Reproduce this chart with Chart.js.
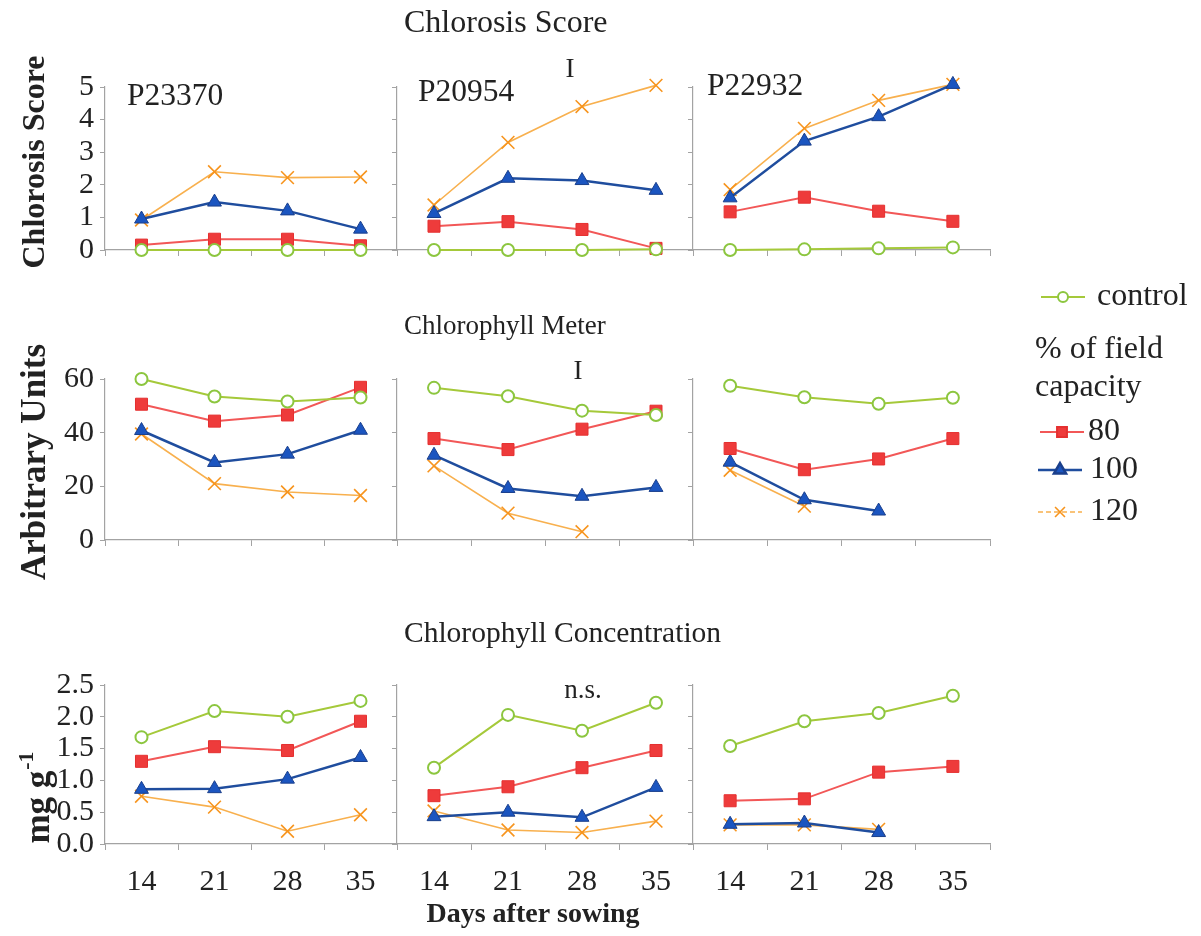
<!DOCTYPE html>
<html>
<head>
<meta charset="utf-8">
<script src="https://cdn.jsdelivr.net/npm/chart.js@4.4.0/dist/chart.umd.min.js"></script>
<style>
  html, body { margin: 0; padding: 0; background: #fff; }
  #fig { position: relative; width: 1201px; height: 936px; }
  #fig canvas { position: absolute; left: 0; top: 0; }
</style>
</head>
<body>
<div id="fig"></div>
<script>
// days after sowing
var days = ['14', '21', '28', '35'];
var seriesNames = ['control', '80', '100', '120'];
var isolates = ['P23370', 'P20954', 'P22932'];

// chlorosis score, one row per series: control, 80, 100, 120
var scoreP23370 = [
    [0, 0, 0, 0],
    [0.15, 0.33, 0.33, 0.13],
    [0.95, 1.47, 1.2, 0.64],
    [0.92, 2.4, 2.22, 2.24]
];
var scoreP20954 = [
    [0, 0, 0, 0.02],
    [0.73, 0.87, 0.63, 0.05],
    [1.12, 2.2, 2.13, 1.83],
    [1.38, 3.3, 4.4, 5.05]
];
var scoreP22932 = [
    [0, 0.02, 0.05, 0.08],
    [1.17, 1.62, 1.19, 0.88],
    [1.6, 3.34, 4.09, 5.08],
    [1.85, 3.73, 4.59, 5.08]
];

// chlorophyll meter (arbitrary units)
var meterP23370 = [
    [60, 53.5, 51.6, 53.1],
    [50.6, 44.3, 46.6, 56.9],
    [40.8, 28.9, 32, 40.9],
    [39.5, 21, 17.9, 16.6]
];
var meterP20954 = [
    [56.7, 53.6, 48.2, 46.6],
    [37.8, 33.7, 41.3, 48],
    [31.6, 19.2, 16.3, 19.6],
    [27.6, 10, 3.1, null]
];
var meterP22932 = [
    [57.5, 53.2, 50.8, 53],
    [34.1, 26.2, 30.2, 37.8],
    [29, 15, 10.8, null],
    [26, 12.6, null, null]
];

// chlorophyll concentration (mg g-1)
var concP23370 = [
    [1.68, 2.09, 2.0, 2.25],
    [1.3, 1.53, 1.47, 1.93],
    [0.86, 0.87, 1.02, 1.36],
    [0.75, 0.58, 0.2, 0.46]
];
var concP20954 = [
    [1.2, 2.03, 1.78, 2.22],
    [0.76, 0.9, 1.2, 1.47],
    [0.43, 0.5, 0.42, 0.89],
    [0.52, 0.22, 0.18, 0.36]
];
var concP22932 = [
    [1.54, 1.93, 2.06, 2.33],
    [0.68, 0.71, 1.13, 1.22],
    [0.31, 0.33, 0.18, null],
    [0.3, 0.3, 0.23, null]
];

var scoreTicks = [0, 5, 1];
var meterTicks = [0, 60, 20];
var concTicks = [0, 2.5, 0.5];

var W = 1201, H = 936;
var serif = "'Liberation Serif', 'Times New Roman', serif";
var axisGray = '#a3a3a3';
var inkColor = '#222';

// plot area edges for the 3 x 3 grid
var colEdges = [[105, 397], [397, 693], [693, 990]];
var rowEdges = [[87, 250], [379, 540], [685, 844]];

var seriesStyles = [
    { borderColor: '#a5c93a', borderWidth: 2, pointStyle: 'circle', pointRadius: 6,
      pointBackgroundColor: '#fff', pointBorderColor: '#8cc63f', pointBorderWidth: 2 },
    { borderColor: '#f25757', borderWidth: 2, pointStyle: 'rect', pointRadius: 8.5,
      pointBackgroundColor: '#ee3b3b', pointBorderColor: '#e53030', pointBorderWidth: 1 },
    { borderColor: '#1f4d9e', borderWidth: 2.5, pointStyle: 'triangle', pointRadius: 8,
      pointBackgroundColor: '#1b55c0', pointBorderColor: '#1a3f8c', pointBorderWidth: 1 },
    { borderColor: '#f8b04e', borderWidth: 1.6, pointStyle: 'crossRot', pointRadius: 9,
      pointBackgroundColor: '#f7941d', pointBorderColor: '#f7941d', pointBorderWidth: 1.6 }
];

Chart.defaults.font.family = serif;
Chart.defaults.color = inkColor;

var tickFont = { family: serif, size: 30 };

function makePanel(row, col, values, range) {
    var canvas = document.createElement('canvas');
    canvas.width = W;
    canvas.height = H;
    document.getElementById('fig').appendChild(canvas);

    var datasets = [];
    for (var i = 0; i < values.length; i++) {
        var ds = Object.assign({ label: seriesNames[i], data: values[i], clip: false, tension: 0, spanGaps: false }, seriesStyles[i]);
        datasets.push(ds);
    }

    // the labelled axes take the whole margin as their box so the labels are not clipped
    var yLabelled = col === 0;
    var xLabelled = row === 2;
    var yWidth = yLabelled ? colEdges[col][0] : 0;
    var xHeight = xLabelled ? H - rowEdges[row][1] : 0;

    return new Chart(canvas, {
        type: 'line',
        data: { labels: days, datasets: datasets },
        options: {
            responsive: false,
            animation: false,
            events: [],
            layout: {
                padding: {
                    left: colEdges[col][0] - yWidth,
                    right: W - colEdges[col][1],
                    top: rowEdges[row][0],
                    bottom: H - rowEdges[row][1] - xHeight
                }
            },
            plugins: { legend: { display: false }, tooltip: { enabled: false } },
            scales: {
                x: {
                    type: 'category',
                    offset: true,
                    grid: { offset: true, drawOnChartArea: false, tickLength: 6, color: axisGray },
                    border: { color: axisGray, width: 1.2 },
                    ticks: { display: xLabelled, font: tickFont, color: inkColor, padding: 14, maxRotation: 0, autoSkip: false },
                    afterFit: function(scale) { scale.height = xHeight; }
                },
                y: {
                    min: range[0],
                    max: range[1],
                    grid: { drawOnChartArea: false, tickLength: 5, color: axisGray },
                    border: { color: axisGray, width: 1.2 },
                    ticks: {
                        display: yLabelled,
                        stepSize: range[2],
                        autoSkip: false,
                        font: tickFont,
                        color: inkColor,
                        padding: 6,
                        callback: function(v) { return row === 2 ? v.toFixed(1) : v; }
                    },
                    afterFit: function(scale) { scale.width = yWidth; }
                }
            }
        }
    });
}

function text(ctx, str, x, y, size, opts) {
    opts = opts || {};
    ctx.save();
    ctx.font = (opts.bold ? 'bold ' : '') + size + 'px ' + serif;
    ctx.fillStyle = inkColor;
    ctx.textAlign = opts.align || 'left';
    ctx.textBaseline = 'middle';
    ctx.translate(x, y);
    if (opts.rotate) ctx.rotate(opts.rotate);
    ctx.fillText(str, 0, 0);
    ctx.restore();
}

function legendMark(ctx, style, x, y, r, dashed) {
    ctx.save();
    ctx.strokeStyle = style.borderColor;
    ctx.lineWidth = style.borderWidth;
    if (dashed) ctx.setLineDash([5, 3]);
    ctx.beginPath();
    ctx.moveTo(x - 22, y);
    ctx.lineTo(x + 22, y);
    ctx.stroke();
    ctx.setLineDash([]);
    ctx.fillStyle = style.pointBackgroundColor;
    ctx.strokeStyle = style.pointBorderColor;
    Chart.helpers.drawPoint(ctx, { pointStyle: style.pointStyle, rotation: 0, radius: r, borderWidth: style.pointBorderWidth }, x, y);
    ctx.restore();
}

// titles, panel names, annotations and the legend
var figureText = {
    id: 'figureText',
    afterDraw: function(chart) {
        var ctx = chart.ctx;
        text(ctx, 'Chlorosis Score', 404, 24, 32);
        text(ctx, 'Chlorophyll Meter', 404, 327, 27);
        text(ctx, 'Chlorophyll Concentration', 404, 634, 29.5);

        text(ctx, isolates[0], 127, 97, 31.5);
        text(ctx, isolates[1], 418, 93, 31.5);
        text(ctx, isolates[2], 707, 87, 31.5);

        text(ctx, 'I', 570, 70, 27, { align: 'center' });
        text(ctx, 'I', 578, 372, 27, { align: 'center' });
        text(ctx, 'n.s.', 583, 691, 27, { align: 'center' });

        text(ctx, 'Chlorosis Score', 36, 162, 32, { bold: true, align: 'center', rotate: -Math.PI / 2 });
        text(ctx, 'Arbitrary Units', 36, 462, 35, { bold: true, align: 'center', rotate: -Math.PI / 2 });

        // mg g-1 with a raised exponent
        ctx.save();
        ctx.translate(40, 798);
        ctx.rotate(-Math.PI / 2);
        ctx.fillStyle = inkColor;
        ctx.textBaseline = 'middle';
        ctx.font = 'bold 22px ' + serif;
        var supW = ctx.measureText('-1').width;
        ctx.font = 'bold 35px ' + serif;
        var baseW = ctx.measureText('mg g').width;
        var x0 = -(baseW + supW) / 2;
        ctx.fillText('mg g', x0, 0);
        ctx.font = 'bold 22px ' + serif;
        ctx.fillText('-1', x0 + baseW + 1, -13);
        ctx.restore();

        text(ctx, 'Days after sowing', 533, 915, 28, { bold: true, align: 'center' });

        legendMark(ctx, seriesStyles[0], 1063, 297, 5);
        text(ctx, seriesNames[0], 1097, 297, 32);
        text(ctx, '% of field', 1035, 350, 32);
        text(ctx, 'capacity', 1035, 388, 32);
        legendMark(ctx, seriesStyles[1], 1062, 432, 7);
        text(ctx, seriesNames[1], 1088, 432, 32);
        legendMark(ctx, seriesStyles[2], 1060, 470, 7);
        text(ctx, seriesNames[2], 1090, 470, 32);
        legendMark(ctx, seriesStyles[3], 1060, 512, 7, true);
        text(ctx, seriesNames[3], 1090, 512, 32);
    }
};

var panelData = [
    [scoreP23370, scoreP20954, scoreP22932],
    [meterP23370, meterP20954, meterP22932],
    [concP23370, concP20954, concP22932]
];
var panelRanges = [scoreTicks, meterTicks, concTicks];

for (var r = 0; r < 3; r++) {
    for (var c = 0; c < 3; c++) {
        makePanel(r, c, panelData[r][c], panelRanges[r]);
    }
}

// text layer on its own canvas above the panels
var textCanvas = document.createElement('canvas');
textCanvas.width = W;
textCanvas.height = H;
document.getElementById('fig').appendChild(textCanvas);
new Chart(textCanvas, {
    type: 'line',
    data: { labels: [], datasets: [] },
    options: {
        responsive: false,
        animation: false,
        events: [],
        plugins: { legend: { display: false }, tooltip: { enabled: false } },
        scales: { x: { display: false }, y: { display: false } }
    },
    plugins: [figureText]
});
</script>
</body>
</html>
